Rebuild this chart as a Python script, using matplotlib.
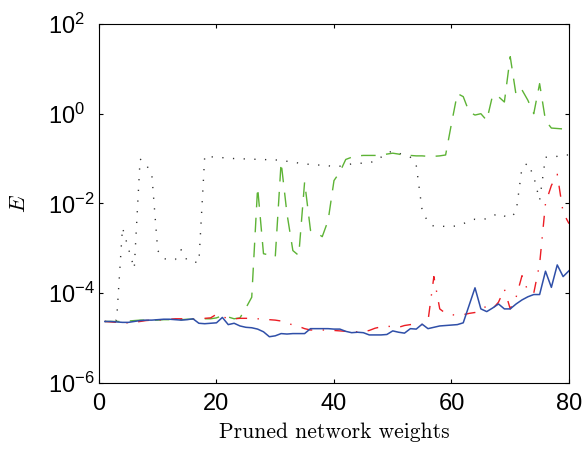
#!/usr/bin/env python3

import matplotlib
matplotlib.use("Agg")
from matplotlib.pyplot import figure, close
from matplotlib.ticker import NullLocator
from numpy import array, power

# pruned network weights (x) and log10 of the error E for each curve
weights = list(range(1, 81))

dotted_log10 = [
    -4.63, -4.62, -4.60, -2.54, -3.00, -3.45, -1.01, -1.12, -1.37, -3.05,
    -3.23, -3.25, -3.25, -3.03, -3.27, -3.30, -3.32, -0.94, -0.96, -0.97,
    -0.98, -0.99, -1.00, -1.00, -1.01, -1.01, -1.02, -1.02, -1.03, -1.03,
    -1.04, -1.06, -1.08, -1.10, -1.12, -1.13, -1.14, -1.15, -1.16, -1.18,
    -1.17, -1.14, -1.12, -1.11, -1.10, -1.09, -1.06, -0.97, -0.88, -0.83,
    -0.88, -0.92, -0.97, -1.15, -2.15, -2.42, -2.51, -2.51, -2.51, -2.51,
    -2.50, -2.45, -2.40, -2.35, -2.36, -2.34, -2.28, -2.22, -2.28, -2.32,
    -2.19, -1.20, -1.10, -1.40, -1.93, -0.97, -0.97, -0.95, -0.92, -0.92,
]

dashed_log10 = [
    -4.63, -4.63, -4.63, -4.63, -4.62, -4.61, -4.60, -4.60, -4.60, -4.60,
    -4.59, -4.59, -4.59, -4.59, -4.58, -4.58, -4.58, -4.57, -4.57, -4.55,
    -4.50, -4.53, -4.57, -4.55, -4.33, -4.09, -1.64, -3.12, -3.15, -3.20,
    -1.08, -2.23, -3.05, -3.16, -1.52, -2.60, -2.65, -2.74, -2.38, -1.49,
    -1.30, -1.02, -0.97, -0.94, -0.93, -0.93, -0.93, -0.92, -0.90, -0.88,
    -0.90, -0.93, -0.93, -0.94, -0.94, -0.95, -0.95, -0.94, -0.92, -0.22,
    0.45, 0.38, 0.04, -0.03, 0.00, -0.15, 0.41, 0.38, 0.26, 1.27,
    0.41, 0.53, 0.30, 0.00, 0.67, -0.15, -0.32, -0.33, -0.34, -0.35,
]

dashdot_log10 = [
    -4.63, -4.64, -4.65, -4.66, -4.66, -4.65, -4.63, -4.61, -4.60, -4.60,
    -4.59, -4.58, -4.57, -4.57, -4.57, -4.58, -4.57, -4.56, -4.55, -4.47,
    -4.52, -4.57, -4.57, -4.56, -4.56, -4.56, -4.57, -4.58, -4.59, -4.60,
    -4.62, -4.66, -4.71, -4.74, -4.79, -4.82, -4.82, -4.82, -4.82, -4.83,
    -4.84, -4.85, -4.86, -4.86, -4.86, -4.83, -4.78, -4.75, -4.74, -4.74,
    -4.76, -4.72, -4.70, -4.68, -4.70, -4.62, -3.63, -4.35, -4.45, -4.48,
    -4.49, -4.48, -4.45, -4.43, -4.38, -4.28, -4.35, -4.20, -3.91, -4.35,
    -4.09, -3.61, -3.95, -4.00, -3.35, -2.00, -1.60, -1.35, -2.20, -2.45,
]

solid_log10 = [
    -4.63, -4.63, -4.64, -4.65, -4.65, -4.63, -4.61, -4.60, -4.60, -4.59,
    -4.58, -4.58, -4.59, -4.60, -4.59, -4.57, -4.67, -4.68, -4.67, -4.66,
    -4.54, -4.70, -4.67, -4.73, -4.76, -4.77, -4.80, -4.86, -4.97, -4.95,
    -4.90, -4.91, -4.90, -4.90, -4.90, -4.79, -4.79, -4.79, -4.79, -4.80,
    -4.80, -4.85, -4.88, -4.87, -4.88, -4.93, -4.93, -4.93, -4.92, -4.84,
    -4.87, -4.89, -4.79, -4.80, -4.69, -4.79, -4.76, -4.73, -4.72, -4.71,
    -4.70, -4.66, -4.27, -3.88, -4.35, -4.41, -4.33, -4.24, -4.35, -4.35,
    -4.24, -4.15, -4.08, -4.03, -4.03, -3.51, -3.87, -3.37, -3.63, -3.50,
]

x_ticks = [0, 20, 40, 60, 80]
y_ticks = [1e-6, 1e-4, 1e-2, 1e0, 1e2]

matplotlib.rcParams["font.family"] = ["Liberation Sans", "DejaVu Sans"]
matplotlib.rcParams["mathtext.fontset"] = "custom"
matplotlib.rcParams["mathtext.rm"] = "Liberation Sans"
matplotlib.rcParams["lines.scale_dashes"] = False


def main():
    fig = figure(figsize=(5.84, 4.5), dpi=100)
    ax = fig.add_axes([0.1695, 0.149, 0.8048, 0.7978])

    ax.plot(weights, power(10.0, array(dotted_log10)), color="#303030",
            lw=1.0, linestyle=(0, (0.9, 6.8)))
    ax.plot(weights, power(10.0, array(dashed_log10)), color="#5db335",
            lw=1.0, linestyle=(0, (10.5, 7.5)))
    ax.plot(weights, power(10.0, array(dashdot_log10)), color="#ec1c24",
            lw=1.0, linestyle=(0, (8.0, 7.5, 1.0, 7.5)))
    ax.plot(weights, power(10.0, array(solid_log10)), color="#2f4fa8",
            lw=1.1)

    ax.set_yscale("log")
    ax.set_xlim(0, 80)
    ax.set_ylim(1e-6, 1e2)
    ax.set_xticks(x_ticks)
    ax.set_yticks(y_ticks)
    ax.yaxis.set_minor_locator(NullLocator())

    for s in ax.spines.values():
        s.set_linewidth(0.8)
    ax.tick_params(axis="both", which="major", direction="in", length=3,
                   width=0.8, labelsize=17, top=True, right=True)
    ax.tick_params(axis="x", pad=7.5)
    ax.tick_params(axis="y", pad=36.5)
    for lbl in ax.get_yticklabels():
        lbl.set_horizontalalignment("left")

    ax.set_xlabel("Pruned network weights", fontfamily="cmr10", fontsize=15.5)
    ax.xaxis.set_label_coords(0.5, -0.11)
    ax.set_ylabel("E", fontfamily="cmmi10", fontsize=16)
    ax.yaxis.set_label_coords(-0.151, 0.5)

    fig.savefig("out.png", dpi=100)
    close(fig)


if __name__ == "__main__":
    main()
